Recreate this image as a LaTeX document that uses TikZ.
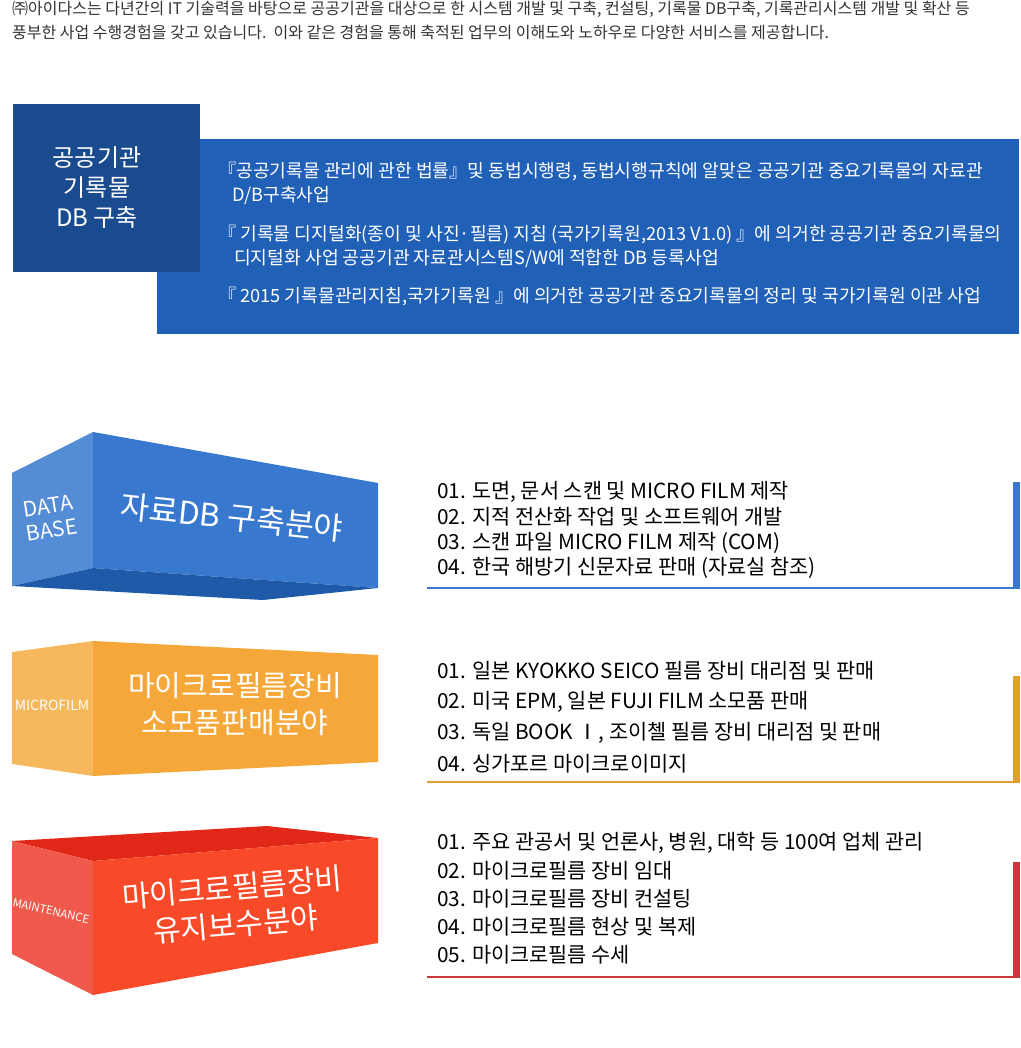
\documentclass[tikz,border=0pt]{standalone}
\usepackage{fontspec}
\setmainfont{Noto Sans CJK KR}
\definecolor{darkblue}{HTML}{1B4B8F}
\definecolor{midblue}{HTML}{2160B7}
\definecolor{dbfront}{HTML}{3878CE}
\definecolor{dbside}{HTML}{558CD6}
\definecolor{dbbottom}{HTML}{1F5AA8}
\definecolor{mffront}{HTML}{F6A739}
\definecolor{mfside}{HTML}{F6B75D}
\definecolor{mtfront}{HTML}{F84929}
\definecolor{mtside}{HTML}{F05A4C}
\definecolor{mttop}{HTML}{E12818}
\definecolor{ruleA}{HTML}{3A78CF}
\definecolor{ruleB}{HTML}{DFA02E}
\definecolor{ruleC}{HTML}{C9393B}
\definecolor{introgray}{HTML}{333333}
\tikzset{
  intro/.style={anchor=west,inner sep=0pt,text=introgray,font=\fontsize{16}{18}\selectfont},
  boxtxt/.style={anchor=west,inner sep=0pt,text=white,font=\fontsize{18.2}{20}\selectfont},
  headtxt/.style={inner sep=0pt,text=white,align=center,font=\fontsize{24}{30}\selectfont},
  bigtxt/.style={inner sep=0pt,text=white,align=center},
  sidetxt/.style={inner sep=0pt,text=white,align=center},
  listtxt/.style={anchor=west,inner sep=0pt,text=black,font=\fontsize{20.8}{22}\selectfont},
  rulebar/.style={line width=2.6pt},
  sidebar/.style={line width=7pt},
}
\begin{document}
\begin{tikzpicture}[x=1pt,y=-1pt]
\useasboundingbox (0,0) rectangle (1020,1048);
% intro
\node[intro] (i1) at (12,9) {㈜아이다스는 다년간의 IT 기술력을 바탕으로 공공기관을 대상으로 한 시스템 개발 및 구축, 컨설팅, 기록물 DB구축, 기록관리시스템 개발 및 확산 등};
\node[intro] (i2) at (12,32) {풍부한 사업 수행경험을 갖고 있습니다.\ \ 이와 같은 경험을 통해 축적된 업무의 이해도와 노하우로 다양한 서비스를 제공합니다.};
% top boxes
\fill[midblue] (157,139) rectangle (1019,334);
\fill[darkblue] (13,104) rectangle (200,272);
\node[headtxt] (h) at (97,188) {공공기관\\기록물\\DB 구축};
\node[boxtxt] (b1) at (218,172) {『공공기록물 관리에 관한 법률』및 동법시행령, 동법시행규칙에 알맞은 공공기관 중요기록물의 자료관};
\node[boxtxt] (b2) at (232,196) {D/B구축사업};
\node[boxtxt] (b3) at (218,235) {『 기록물 디지털화(종이 및 사진·필름) 지침 (국가기록원,2013 V1.0) 』에 의거한 공공기관 중요기록물의};
\node[boxtxt] (b4) at (234,259) {디지털화 사업 공공기관 자료관시스템S/W에 적합한 DB 등록사업};
\node[boxtxt] (b5) at (218,297) {『 2015 기록물관리지침,국가기록원 』에 의거한 공공기관 중요기록물의 정리 및 국가기록원 이관 사업};
% DB box
\fill[dbside] (12,473) -- (93,432) -- (93,568) -- (12,586) -- cycle;
\fill[dbfront] (93,432) -- (378,483) -- (378,588) -- (93,568) -- cycle;
\fill[dbbottom] (12,586) -- (93,568) -- (378,588) -- (263,600) -- cycle;
\node[sidetxt,rotate=9,font=\fontsize{21}{24}\selectfont] (s1) at (50,518) {DATA\\BASE};
\node[bigtxt,rotate=-6,font=\fontsize{31.5}{36}\selectfont] (t1) at (232,517) {자료DB 구축분야};
% microfilm box
\fill[mfside] (12,652) -- (93,641) -- (93,776) -- (12,764) -- cycle;
\fill[mffront] (93,641) -- (378,655) -- (378,762) -- (93,776) -- cycle;
\node[sidetxt,font=\fontsize{14}{15}\selectfont] (s2) at (52,705) {MICROFILM};
\node[bigtxt,font=\fontsize{29}{37}\selectfont] (t2) at (235,704) {마이크로필름장비\\소모품판매분야};
% maintenance box
\fill[mttop] (12,841) -- (267,826) -- (378,838) -- (93,861) -- cycle;
\fill[mtside] (12,841) -- (93,861) -- (93,995) -- (12,954) -- cycle;
\fill[mtfront] (93,861) -- (378,838) -- (378,943) -- (93,995) -- cycle;
\node[sidetxt,rotate=-13,font=\fontsize{11.3}{12}\selectfont] (s3) at (51,911) {MAINTENANCE};
\node[bigtxt,rotate=5,font=\fontsize{30}{37}\selectfont] (t3) at (234,906) {마이크로필름장비\\유지보수분야};
% list 1
\node[listtxt] (a1) at (437,492) {01. 도면, 문서 스캔 및 MICRO FILM 제작};
\node[listtxt] (a2) at (437,517) {02. 지적 전산화 작업 및 소프트웨어 개발};
\node[listtxt] (a3) at (437,543) {03. 스캔 파일 MICRO FILM 제작 (COM)};
\node[listtxt] (a4) at (437,568) {04. 한국 해방기 신문자료 판매 (자료실 참조)};
\coordinate (ra1) at (427,588);
\coordinate (ra2) at (1016.5,588);
\coordinate (ra3) at (1016.5,482);
\coordinate (ra4) at (1016.5,589.3);
\draw[rulebar,ruleA] (ra1) -- (ra2);
\draw[sidebar,ruleA] (ra4) -- (ra3);
% list 2
\node[listtxt] (c1) at (437,671) {01. 일본 KYOKKO SEICO 필름 장비 대리점 및 판매};
\node[listtxt] (c2) at (437,702) {02. 미국 EPM, 일본 FUJI FILM 소모품 판매};
\node[listtxt] (c3) at (437,733) {03. 독일 BOOK Ⅰ, 조이첼 필름 장비 대리점 및 판매};
\node[listtxt] (c4) at (437,764) {04. 싱가포르 마이크로이미지};
\coordinate (rb1) at (427,782);
\coordinate (rb2) at (1016.5,782);
\coordinate (rb3) at (1016.5,676);
\coordinate (rb4) at (1016.5,783.3);
\draw[rulebar,ruleB] (rb1) -- (rb2);
\draw[sidebar,ruleB] (rb4) -- (rb3);
% list 3
\node[listtxt] (d1) at (437,843) {01. 주요 관공서 및 언론사, 병원, 대학 등 100여 업체 관리};
\node[listtxt] (d2) at (437,871) {02. 마이크로필름 장비 임대};
\node[listtxt] (d3) at (437,899) {03. 마이크로필름 장비 컨설팅};
\node[listtxt] (d4) at (437,927) {04. 마이크로필름 현상 및 복제};
\node[listtxt] (d5) at (437,955) {05. 마이크로필름 수세};
\coordinate (rc1) at (427,977);
\coordinate (rc2) at (1016.5,977);
\coordinate (rc3) at (1016.5,862);
\coordinate (rc4) at (1016.5,978.3);
\draw[rulebar,ruleC] (rc1) -- (rc2);
\draw[sidebar,ruleC] (rc4) -- (rc3);
\end{tikzpicture}
\end{document}
